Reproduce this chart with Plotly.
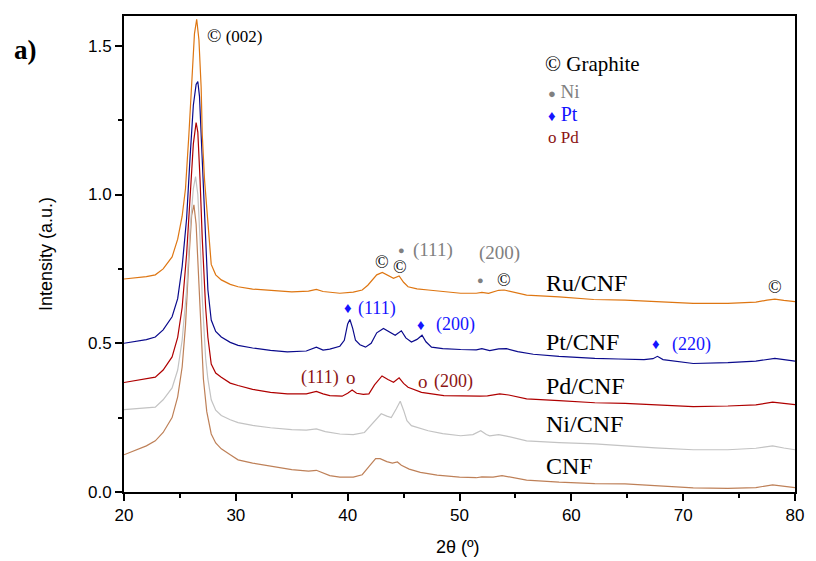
import plotly.graph_objects as go

# ---------------- data ----------------
x_ru = [20, 21, 22, 22.8, 23.5, 24.3, 24.8, 25.2, 25.5, 25.8, 26.1, 26.3, 26.5, 26.7, 26.9, 27.0, 27.2, 27.4,
        27.6, 27.8, 28.2, 28.7, 29.5, 30.2, 31.5, 33.1, 35, 36.5, 37.2, 37.8, 39.3, 40.5, 41.3, 41.8, 42.2,
        42.6, 43.1, 43.6, 44.1, 44.6, 45.0, 45.4, 46.2, 47.2, 48.5, 50.1, 51.5, 52.0, 52.6, 53.5, 54.0, 54.6,
        56, 58.9, 62, 64.8, 68, 70.9, 74, 76.5, 77.5, 78.2, 79, 80]
y_ru = [0.716, 0.72, 0.724, 0.73, 0.75, 0.79, 0.85, 0.927, 1.02, 1.2, 1.42, 1.54, 1.589, 1.52, 1.36, 1.2, 1.05,
        0.96, 0.85, 0.765, 0.73, 0.713, 0.698, 0.69, 0.682, 0.677, 0.673, 0.675, 0.681, 0.674, 0.668, 0.672,
        0.679, 0.695, 0.713, 0.73, 0.738, 0.728, 0.718, 0.726, 0.705, 0.69, 0.683, 0.679, 0.673, 0.668, 0.668,
        0.671, 0.668, 0.678, 0.679, 0.674, 0.662, 0.656, 0.647, 0.645, 0.64, 0.634, 0.634, 0.638, 0.645,
        0.648, 0.644, 0.64]

x_pt = [20, 21, 22, 22.8, 23.5, 24.3, 24.8, 25.2, 25.6, 25.9, 26.2, 26.45, 26.6, 26.75, 26.9, 27.1, 27.3, 27.5,
        27.8, 28.2, 28.7, 29.5, 30.2, 31.5, 33.1, 34.6, 36.3, 37.2, 37.8, 38.4, 39.3, 39.7, 40.0, 40.2, 40.45,
        40.7, 41.1, 41.6, 42.1, 42.6, 43.2, 43.7, 44.25, 44.8, 45.2, 45.7, 46.2, 46.65, 47.0, 47.5, 48.5, 50.1,
        51.5, 52.0, 52.7, 53.5, 54.2, 55.2, 56.6, 58.9, 62.1, 64.2, 66.5, 67.3, 67.7, 68.2, 70.9, 74, 76.5,
        78.2, 79, 80]
y_pt = [0.50, 0.505, 0.512, 0.521, 0.545, 0.589, 0.65, 0.758, 0.92, 1.12, 1.3, 1.37, 1.38, 1.33, 1.2, 0.98,
        0.80, 0.68, 0.578, 0.54, 0.521, 0.503, 0.493, 0.484, 0.476, 0.471, 0.474, 0.487, 0.477, 0.48, 0.49,
        0.51, 0.565, 0.58, 0.55, 0.51, 0.495, 0.487, 0.5, 0.535, 0.55, 0.538, 0.527, 0.542, 0.518, 0.504,
        0.513, 0.527, 0.505, 0.487, 0.482, 0.479, 0.478, 0.482, 0.475, 0.481, 0.482, 0.472, 0.463, 0.456,
        0.449, 0.447, 0.445, 0.448, 0.456, 0.445, 0.432, 0.435, 0.44, 0.449, 0.445, 0.44]

x_pd = [20, 21, 22, 22.8, 23.5, 24.3, 24.8, 25.2, 25.6, 25.9, 26.2, 26.45, 26.6, 26.8, 27.0, 27.3, 27.5, 27.8,
        28.2, 28.7, 29.5, 30.2, 31.5, 33.1, 34.6, 36.3, 37.2, 37.8, 38.4, 39.5, 40.0, 40.4, 40.8, 41.4, 41.9,
        42.4, 43.07, 43.6, 44.1, 44.6, 45.0, 45.4, 46.6, 48.6, 50.5, 51.8, 52.5, 53.6, 54.4, 56, 58.9, 62.1,
        64.8, 70.9, 74, 76.5, 78, 79, 80]
y_pd = [0.368, 0.374, 0.38, 0.386, 0.41, 0.454, 0.52, 0.62, 0.8, 1.0, 1.17, 1.242, 1.21, 1.05, 0.85, 0.62,
        0.52, 0.43, 0.40, 0.386, 0.366, 0.358, 0.345, 0.335, 0.33, 0.33, 0.338, 0.33, 0.324, 0.322, 0.332,
        0.343, 0.332, 0.328, 0.33, 0.36, 0.39, 0.378, 0.369, 0.384, 0.365, 0.352, 0.335, 0.324, 0.322, 0.322,
        0.323, 0.33, 0.326, 0.313, 0.307, 0.3, 0.298, 0.287, 0.289, 0.293, 0.302, 0.298, 0.294]

x_ni = [20, 21, 22, 22.8, 23.5, 24.3, 24.8, 25.2, 25.6, 25.9, 26.2, 26.4, 26.6, 26.8, 27.0, 27.3, 27.5, 27.8,
        28.2, 28.7, 29.5, 30.2, 31.5, 33.1, 35, 36.3, 37.2, 38, 39.3, 40.5, 41.5, 42.2, 43.0, 43.5, 43.9,
        44.35, 44.7, 45.0, 45.3, 45.7, 47.2, 48.5, 50.1, 51.2, 51.9, 52.4, 52.7, 53.5, 54.2, 56, 58.9, 62.1,
        64.8, 67.5, 70.9, 74, 76.5, 78, 79, 80]
y_ni = [0.277, 0.28, 0.283, 0.285, 0.31, 0.35, 0.41, 0.51, 0.68, 0.88, 1.02, 1.06, 1.0, 0.85, 0.65, 0.45,
        0.38, 0.31, 0.275, 0.257, 0.243, 0.233, 0.224, 0.216, 0.21, 0.208, 0.212, 0.203, 0.195, 0.193, 0.2,
        0.23, 0.263, 0.255, 0.25, 0.28, 0.305, 0.275, 0.24, 0.223, 0.206, 0.196, 0.189, 0.193, 0.206, 0.193,
        0.189, 0.193, 0.188, 0.172, 0.166, 0.162, 0.155, 0.148, 0.142, 0.142, 0.147, 0.155, 0.148, 0.142]

x_cnf = [20, 21, 22, 22.8, 23.5, 24.3, 24.8, 25.2, 25.5, 25.8, 26.05, 26.25, 26.45, 26.7, 26.9, 27.1, 27.4,
         27.8, 28.2, 28.7, 29.5, 30.2, 31.5, 33.1, 35, 36.5, 37.2, 38.4, 39.3, 40.5, 41.3, 41.9, 42.5, 42.9,
         43.5, 44.0, 44.45, 44.8, 45.5, 46.5, 48, 50, 51.5, 52, 53, 53.8, 54.5, 56, 58.9, 62.1, 64.8, 70.9,
         74, 76.5, 78, 79, 80]
y_cnf = [0.125, 0.14, 0.155, 0.172, 0.2, 0.25, 0.32, 0.42, 0.56, 0.78, 0.93, 0.965, 0.9, 0.7, 0.52, 0.38,
         0.27, 0.195, 0.165, 0.145, 0.125, 0.108, 0.097, 0.086, 0.075, 0.07, 0.073, 0.055, 0.05, 0.05, 0.058,
         0.085, 0.112, 0.112, 0.102, 0.097, 0.101, 0.09, 0.077, 0.066, 0.057, 0.05, 0.048, 0.051, 0.05, 0.055,
         0.05, 0.04, 0.033, 0.028, 0.027, 0.014, 0.012, 0.015, 0.024, 0.019, 0.015]

series_names = ["Ru/CNF", "Pt/CNF", "Pd/CNF", "Ni/CNF", "CNF"]
x_ticks = [20, 30, 40, 50, 60, 70, 80]
y_ticks = [0.0, 0.5, 1.0, 1.5]

colors = ["rgb(222,118,18)", "rgb(10,10,140)", "rgb(175,0,0)", "rgb(195,195,195)", "rgb(190,128,88)"]

fig = go.Figure()
for xs, ys, name, col in reversed(list(zip([x_ru, x_pt, x_pd, x_ni, x_cnf],
                                           [y_ru, y_pt, y_pd, y_ni, y_cnf],
                                           series_names, colors))):
    fig.add_trace(go.Scatter(x=xs, y=ys, mode="lines", name=name,
                             line=dict(color=col, width=1.2), showlegend=False))

SERIF = "Liberation Serif"
ann = []

def txt(x, y, t, size=18, color="black", xanchor="center", font=SERIF):
    ann.append(dict(x=x, y=y, xref="x", yref="y", text=t, showarrow=False,
                    xanchor=xanchor, yanchor="middle",
                    font=dict(family=font, size=size, color=color)))

GREY = "rgb(128,128,128)"
BLUE = "rgb(20,20,255)"
DRED = "rgb(140,20,20)"
C = "<span style='font-size:19px'>©</span>"

# (002)
txt(27.2, 1.534, C + " (002)", 17, xanchor="left")
# legend block
txt(57.45, 1.44, "<span style='font-size:21px'>©</span> Graphite", 21, xanchor="left")
txt(57.75, 1.346, "<span style='font-size:13px'>●</span> Ni", 19, GREY, xanchor="left")
txt(57.75, 1.272, "<span style='font-size:15px'>♦</span> Pt", 20, BLUE, xanchor="left")
txt(57.7, 1.192, "o Pd", 17, DRED, xanchor="left")
# Ru / graphite marks
txt(43.06, 0.772, "©", 18)
txt(44.67, 0.758, "©", 18)
txt(44.85, 0.814, "●", 11, GREY)
txt(47.62, 0.812, "(111)", 19, GREY)
txt(53.57, 0.805, "(200)", 19, GREY)
txt(51.89, 0.712, "●", 11, GREY)
txt(53.95, 0.712, "©", 18)
txt(78.24, 0.69, "©", 18)
# Pt
txt(40.05, 0.617, "♦", 15, BLUE)
txt(42.6, 0.617, "(111)", 18, BLUE)
txt(46.6, 0.563, "♦", 15, BLUE)
txt(49.68, 0.563, "(200)", 18, BLUE)
txt(67.6, 0.496, "♦", 15, BLUE)
txt(70.7, 0.496, "(220)", 18, BLUE)
# Pd
txt(37.54, 0.385, "(111)", 18, DRED)
txt(40.3, 0.385, "o", 19, DRED)
txt(46.74, 0.372, "o", 19, DRED)
txt(49.5, 0.372, "(200)", 18, DRED)
# series labels
for name, yv in zip(series_names, [0.704, 0.503, 0.355, 0.227, 0.086]):
    txt(57.54, yv, name, 24, xanchor="left")

# panel label and axis titles
ann.append(dict(x=-0.147, y=0.929, xref="paper", yref="paper", text="<b>a)</b>", showarrow=False,
                xanchor="center", yanchor="middle", font=dict(family=SERIF, size=27, color="black")))
ann.append(dict(x=-0.1163, y=0.5, xref="paper", yref="paper", text="Intensity (a.u.)", showarrow=False,
                textangle=-90, xanchor="center", yanchor="middle",
                font=dict(family="Liberation Sans", size=18, color="black")))
ann.append(dict(x=0.498, y=-0.1165, xref="paper", yref="paper", text="2θ (º)", showarrow=False,
                xanchor="center", yanchor="middle",
                font=dict(family="Liberation Sans", size=18, color="black")))

fig.update_layout(
    width=816, height=561,
    margin=dict(l=124, r=13, t=16, b=69),
    paper_bgcolor="white", plot_bgcolor="white",
    annotations=ann,
    showlegend=False,
)
fig.update_xaxes(range=[20, 80], tickvals=x_ticks, ticks="outside", ticklen=7, tickwidth=1.5,
                 tickcolor="black", showline=True, linecolor="black", linewidth=1.8, mirror=True,
                 showgrid=False, zeroline=False,
                 tickfont=dict(family="Liberation Sans", size=17, color="black"),
                 minor=dict(dtick=5, tick0=20, ticks="outside", ticklen=4, tickwidth=1.5, tickcolor="black"))
fig.update_yaxes(range=[0, 1.60], tickvals=y_ticks, tickformat=".1f", ticks="outside", ticklen=7,
                 tickwidth=1.5, tickcolor="black", showline=True, linecolor="black", linewidth=1.8,
                 mirror=True, showgrid=False, zeroline=False,
                 tickfont=dict(family="Liberation Sans", size=17, color="black"),
                 minor=dict(dtick=0.25, tick0=0, ticks="outside", ticklen=4, tickwidth=1.5, tickcolor="black"))

fig.write_html("out.html")
